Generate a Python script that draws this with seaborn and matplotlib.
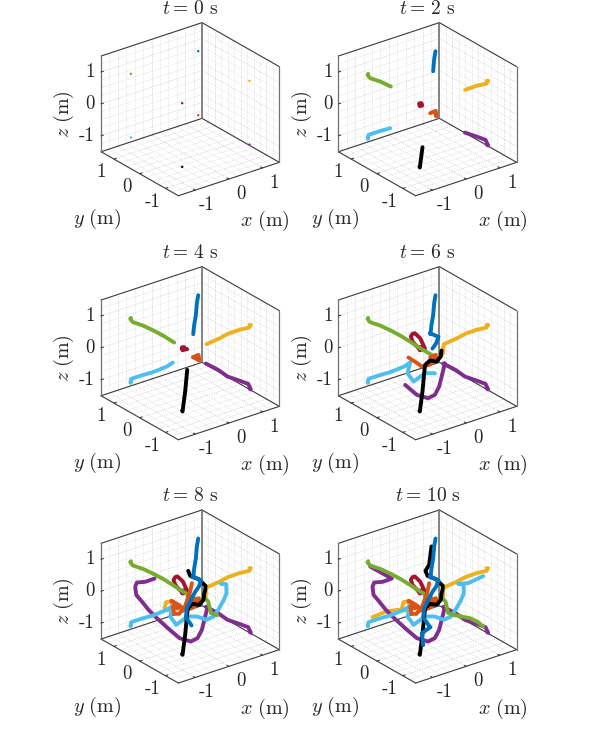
# Import necessary libraries
import numpy as np
import pandas as pd
import matplotlib.pyplot as plt
import seaborn as sns

sns.set_style('white')
plt.rcParams['mathtext.fontset'] = 'cm'
plt.rcParams['lines.solid_joinstyle'] = 'round'

# Snapshot times and axis ticks
times = [0, 2, 4, 6, 8, 10]
tick_values = [-1, 0, 1]
tick_labels = ['-1', '0', '1']

# Robot paths in the view plane, each point tagged with the first snapshot showing it
blue_u = [24, 20, 17, 12, 9, 7, 33, 26, 15, 5, -10, -13, 4, 9, -17, -13]
blue_v = [174, 150, 114, 85, 57, 60, 49, 30, 14, -5, -35, -62, -87, -92, -110, -146]
blue_t = [0, 2, 2, 4, 4, 6, 6, 6, 6, 8, 8, 8, 8, 10, 10, 10]

green_u = [-178, -180, -172, -142, -110, -80, -48, -27, 12, 17, 28, 40, 54, 58, 62, 81, 127, 150, 167]
green_v = [106, 103, 93, 83, 68, 52, 32, 18, -5, -8, -14, -1, -15, -32, -50, -56, -65, -76, -90]
green_t = [0, 2, 2, 2, 2, 4, 4, 6, 6, 6, 8, 8, 8, 8, 8, 8, 10, 10, 10]

yellow_u = [178, 182, 177, 147, 113, 89, 49, 47, 47, 37, 12, -20, -45, -60, -72, -77, -65, -87, -122, -165]
yellow_v = [85, 85, 77, 70, 58, 45, 27, 14, 0, -10, -30, -40, -35, -15, -17, -35, -42, -40, -44, -62]
yellow_t = [0, 2, 2, 2, 2, 4, 4, 6, 6, 6, 6, 8, 8, 8, 8, 8, 8, 10, 10, 10]

purple_u = [178, 182, 174, 147, 112, 84, 47, 52, 48, 42, 35, 22, 2, -32, -67, -100, -125, -145, -162, -165,
            -160, -135, -107, -140, -172]
purple_v = [-106, -109, -92, -82, -70, -50, -31, -30, -48, -72, -100, -125, -135, -125, -95, -65, -40, -15, 5, 30,
            42, 44, 54, 72, 90]
purple_t = [0, 2, 2, 2, 2, 4, 4, 6, 6, 6, 6, 6, 6, 6, 6, 8, 8, 8, 8, 8,
            8, 8, 8, 10, 10]

cyan_u = [-178, -179, -177, -147, -112, -70, -52, -60, -42, -7, 22, 49, 70, 84, 100, 109, 108, 92, 122, 167]
cyan_v = [-85, -89, -77, -67, -57, -40, -28, -60, -85, -60, -60, -70, -60, -40, -12, 10, 37, 38, 40, 61]
cyan_t = [0, 2, 2, 2, 2, 4, 4, 6, 6, 6, 6, 8, 8, 8, 8, 8, 8, 8, 10, 10]

orange_u = [24, 27, 25, 8, 25, 5, -17, -35, -57, -30, -40, -52, -48, -33, -15, 0, 5]
orange_v = [-18, -22, -5, -12, -20, -35, -40, -27, -13, -28, -35, -30, -52, -52, -28, 15, 40]
orange_t = [0, 2, 2, 2, 4, 6, 6, 6, 6, 8, 8, 8, 8, 8, 8, 8, 8]

red_u = [-24, -18, -16, -23, -25, -9, -25, -45, -50, -45, -38, -22, -8, -5]
red_v = [18, 18, 11, 9, 15, 12, 13, 35, 50, 58, 60, 45, 15, -5]
red_t = [0, 2, 2, 2, 2, 4, 4, 6, 6, 6, 6, 6, 6, 8]

black_u = [-24, -23, -15, -9, -7, 7, 27, 40, 42, 45, 46, 25, 0, -6, 5, 12]
black_v = [-173, -175, -114, -50, -35, -22, -25, -10, 8, 20, 32, 52, 62, 77, 95, 150]
black_t = [0, 2, 2, 4, 6, 6, 6, 6, 6, 8, 8, 8, 8, 8, 10, 10]

paths = {
    'yellow': (yellow_u, yellow_v, yellow_t),
    'purple': (purple_u, purple_v, purple_t),
    'cyan': (cyan_u, cyan_v, cyan_t),
    'red': (red_u, red_v, red_t),
    'green': (green_u, green_v, green_t),
    'orange': (orange_u, orange_v, orange_t),
    'black': (black_u, black_v, black_t),
    'blue': (blue_u, blue_v, blue_t),
}
palette = {'blue': '#0072BD', 'orange': '#D95319', 'yellow': '#EDB120', 'purple': '#7E2F8E',
           'green': '#77AC30', 'cyan': '#4DBEEE', 'red': '#A2142F', 'black': '#000000'}

# Long table for seaborn
frames = []
for name, (u, v, t) in paths.items():
    frames.append(pd.DataFrame({'u': u, 'v': v, 't': t, 'robot': name}))
data = pd.concat(frames, ignore_index=True)

# Unit vectors of the box axes in the view plane
X_DIR = np.array([101.0, 33.4])
Y_DIR = np.array([-77.3, 44.0])
Z_DIR = np.array([0.0, 95.7])
LIM = 1.5


def proj(x, y, z):
    return x * X_DIR + y * Y_DIR + z * Z_DIR


def seg(ax, a, b, **kw):
    p, q = proj(*a), proj(*b)
    ax.plot([p[0], q[0]], [p[1], q[1]], **kw)


def draw_box(ax):
    # grid on the two walls and the floor
    for g in np.arange(-LIM, LIM + 0.01, 0.25):
        major = abs(g - round(g)) < 1e-6
        kw = dict(color='#a8a8a8' if major else '#c4c4c4', lw=0.45, ls=(0, (1, 2)), zorder=1)
        seg(ax, (g, LIM, -LIM), (g, LIM, LIM), **kw)
        seg(ax, (-LIM, LIM, g), (LIM, LIM, g), **kw)
        seg(ax, (LIM, g, -LIM), (LIM, g, LIM), **kw)
        seg(ax, (LIM, -LIM, g), (LIM, LIM, g), **kw)
        seg(ax, (g, -LIM, -LIM), (g, LIM, -LIM), **kw)
        seg(ax, (-LIM, g, -LIM), (LIM, g, -LIM), **kw)

    # box outline
    edge = dict(color='#3c3c3c', lw=0.8, zorder=2)
    seg(ax, (-LIM, LIM, LIM), (LIM, LIM, LIM), **edge)
    seg(ax, (LIM, LIM, LIM), (LIM, -LIM, LIM), **edge)
    seg(ax, (-LIM, LIM, -LIM), (LIM, LIM, -LIM), **edge)
    seg(ax, (LIM, LIM, -LIM), (LIM, -LIM, -LIM), **edge)
    seg(ax, (-LIM, -LIM, -LIM), (LIM, -LIM, -LIM), **edge)
    seg(ax, (-LIM, -LIM, -LIM), (-LIM, LIM, -LIM), **edge)
    seg(ax, (-LIM, LIM, -LIM), (-LIM, LIM, LIM), color='#707070', lw=0.9, zorder=2)
    seg(ax, (LIM, -LIM, -LIM), (LIM, -LIM, LIM), color='#707070', lw=0.9, zorder=2)
    seg(ax, (LIM, LIM, -LIM), (LIM, LIM, LIM), color='#707070', lw=1.2, zorder=2)

    # ticks and tick labels
    for val, lab in zip(tick_values, tick_labels):
        seg(ax, (val, -LIM, -LIM), (val, -LIM + 0.07, -LIM), **edge)
        seg(ax, (-LIM, val, -LIM), (-LIM + 0.07, val, -LIM), **edge)
        seg(ax, (-LIM, LIM, val), (-LIM + 0.07, LIM, val), **edge)
        px, py = proj(val, -LIM, -LIM)
        ax.text(px + 36, py - 45, lab, ha='center', va='center', fontsize=13.5, family='cmr10')
        px, py = proj(-LIM, val, -LIM)
        ax.text(px - 38, py - 40, lab, ha='center', va='center', fontsize=13.5, family='cmr10')
        px, py = proj(-LIM, LIM, val)
        ax.text(px - 18, py, lab, ha='right', va='center', fontsize=13.5, family='cmr10')

    # axis names
    ax.text(225, -336, r'$x\ \mathrm{(m)}$', ha='center', va='center', fontsize=14.5)
    ax.text(-278, -330, r'$y\ \mathrm{(m)}$', ha='center', va='center', fontsize=14.5)
    ax.text(-378, -15, r'$z\ \mathrm{(m)}$', ha='center', va='center', rotation=90, fontsize=14.5)


# One large 2D axes per panel, centred on the box centre (pixel positions of the figure)
W, H = 598, 731
SIZE = 240
centres = [(190.2, 109.2), (427.5, 109.2), (190.2, 353.2), (427.5, 353.2), (190.2, 596.5), (427.5, 596.5)]

fig = plt.figure(figsize=(W / 100, H / 100), dpi=100)

for T, (cx, cy) in zip(times, centres):
    ax = fig.add_axes([(cx - SIZE / 2) / W, 1 - (cy + SIZE / 2) / H, SIZE / W, SIZE / H])
    ax.set_xlim(-SIZE * 1.5, SIZE * 1.5)
    ax.set_ylim(-SIZE * 1.5, SIZE * 1.5)
    ax.axis('off')
    draw_box(ax)

    shown = data[data['t'] <= T]
    if T > 0:
        sns.lineplot(data=shown, x='u', y='v', hue='robot', hue_order=list(paths), palette=palette,
                     sort=False, estimator=None, legend=False, lw=2.8, solid_capstyle='round',
                     zorder=3, ax=ax)
    else:
        sns.scatterplot(data=shown, x='u', y='v', hue='robot', hue_order=list(paths), palette=palette,
                        legend=False, s=3, linewidth=0, zorder=3, ax=ax)
    ax.set_xlabel('')
    ax.set_ylabel('')
    ax.text(0, 302, rf'$t=\,{T}\ \mathrm{{s}}$', ha='center', va='center', fontsize=14)

fig.savefig('out.png', dpi=100)
